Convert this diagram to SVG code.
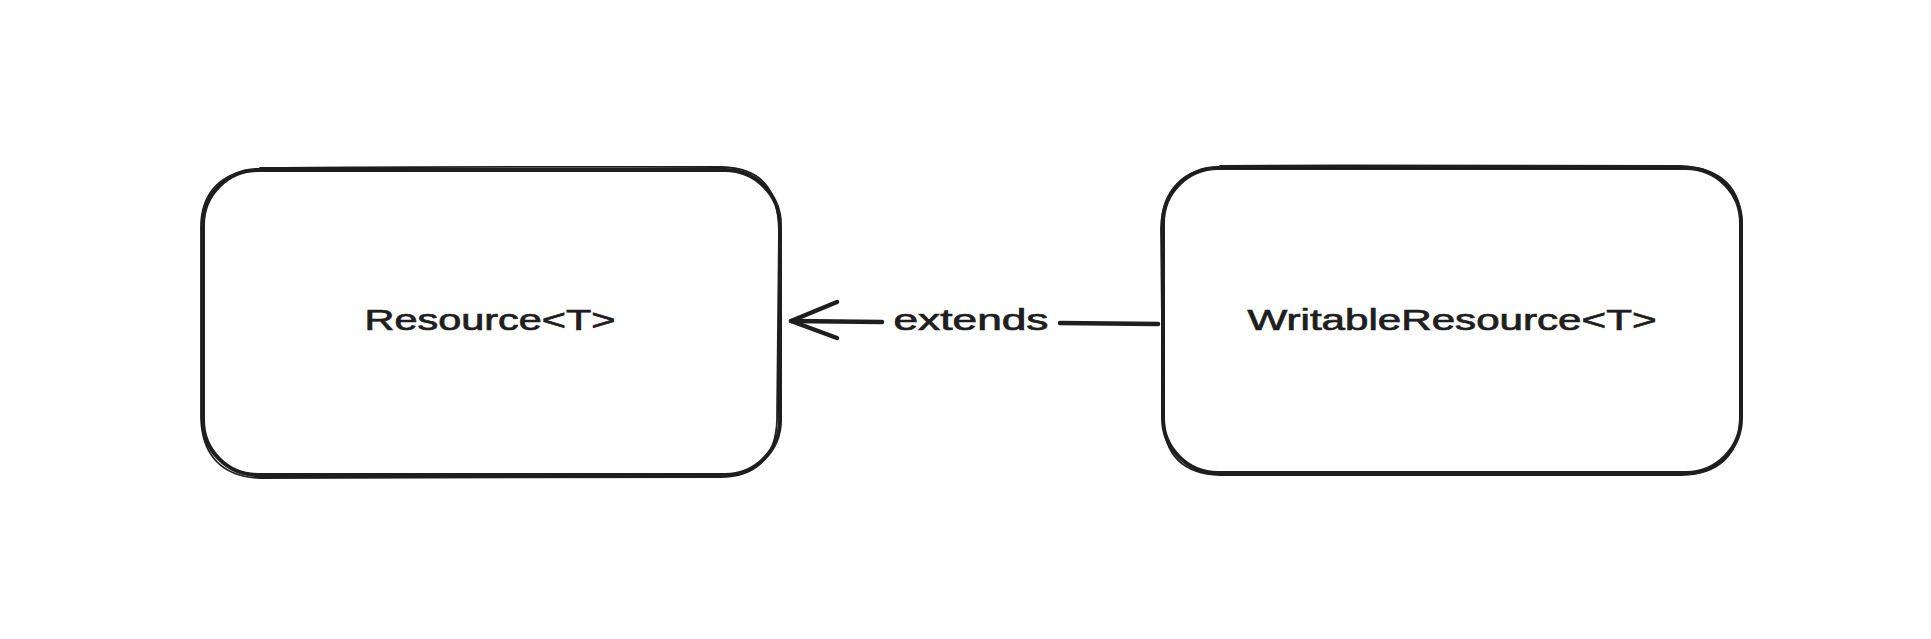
<svg xmlns="http://www.w3.org/2000/svg" width="1931" height="639" viewBox="0 0 1931 639">
<style>
.box{fill:none;stroke:#1e1e1e;stroke-width:4;stroke-linecap:round;stroke-linejoin:round}
.sk{fill:none;stroke:#1e1e1e;stroke-width:1.8;stroke-linecap:round}
.lbl{font-family:"Liberation Sans",Arial,sans-serif;font-size:29px;fill:#1e1e1e;stroke:#1e1e1e;stroke-width:0.7;text-anchor:middle;dominant-baseline:central}
.con{fill:none;stroke:#1e1e1e;stroke-width:4.5;stroke-linecap:round;stroke-linejoin:round}
</style>
<rect width="1931" height="639" fill="#ffffff"/>
<g id="node-resource">
<rect class="box" x="203" y="170" width="577" height="305" rx="55" ry="55"/>
<path class="sk" d="M260 168 C420 166 600 167 722 167 C762 168 778 190 779 230 L777 420 C776 458 755 477 720 477 L260 478 C222 477 202 455 201 418 L201 230 C200 192 222 170 262 169"/>
<text class="lbl" x="490" y="320" textLength="251" lengthAdjust="spacingAndGlyphs">Resource&lt;T&gt;</text>
</g>
<g id="node-writable">
<rect class="box" x="1163" y="168" width="578" height="305" rx="55" ry="55"/>
<path class="sk" d="M1220 166 C1380 165 1560 165 1680 166 C1722 168 1742 188 1742 228 L1740 418 C1740 455 1718 474 1682 475 L1220 475 C1183 474 1164 455 1163 418 L1161 228 C1162 190 1183 168 1222 167"/>
<text class="lbl" x="1452" y="320" textLength="409" lengthAdjust="spacingAndGlyphs">WritableResource&lt;T&gt;</text>
</g>
<g id="connectors">
<path class="con" d="M1158 324 L1060 323"/>
<path class="con" d="M882 322 L791 321"/>
<path class="con" d="M837 302 L791 321 L837 338"/>
<text class="lbl" x="971" y="320" textLength="155" lengthAdjust="spacingAndGlyphs">extends</text>
</g>
</svg>
